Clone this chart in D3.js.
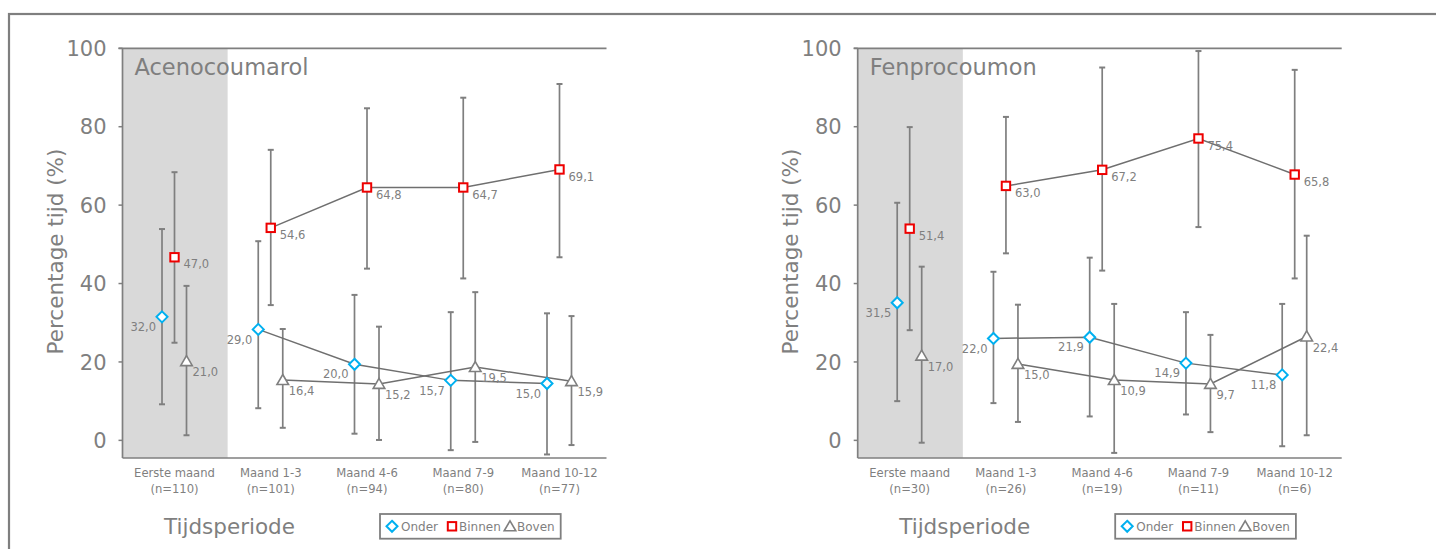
<!DOCTYPE html>
<html>
<head>
<meta charset="utf-8">
<script src="https://cdn.jsdelivr.net/npm/d3@7"></script>
<style>
	body { margin: 0; background: #fff; }
	svg text { font-family: "DejaVu Sans", sans-serif; fill: #7f7f7f; }
</style>
</head>
<body>
<svg id="chart" width="1436" height="549"></svg>
<script>
	var periods = ["Eerste maand", "Maand 1-3", "Maand 4-6", "Maand 7-9", "Maand 10-12"]
	var yTicks = [0, 20, 40, 60, 80, 100]
	var seriesNames = ["Onder", "Binnen", "Boven"]

	// Acenocoumarol
	var acenoN = [110, 101, 94, 80, 77]
	var acenoOnder = [31.5, 28.3, 19.4, 15.3, 14.5]
	var acenoOnderLow = [9.2, 8.2, 1.7, -2.5, -3.6]
	var acenoOnderHigh = [53.9, 50.8, 37.1, 32.7, 32.4]
	var acenoOnderLabels = ["32,0", "29,0", "20,0", "15,7", "15,0"]
	var acenoBinnen = [46.7, 54.2, 64.5, 64.5, 69.1]
	var acenoBinnenLow = [24.9, 34.5, 43.8, 41.3, 46.7]
	var acenoBinnenHigh = [68.4, 74.1, 84.7, 87.4, 90.9]
	var acenoBinnenLabels = ["47,0", "54,6", "64,8", "64,7", "69,1"]
	var acenoBoven = [20.2, 15.4, 14.4, 18.7, 15.1]
	var acenoBovenLow = [1.3, 3.2, 0.1, -0.4, -1.2]
	var acenoBovenHigh = [39.4, 28.4, 29.0, 37.8, 31.7]
	var acenoBovenLabels = ["21,0", "16,4", "15,2", "19,5", "15,9"]

	// Fenprocoumon
	var fenproN = [30, 26, 19, 11, 6]
	var fenproOnder = [35.1, 26.0, 26.3, 19.7, 16.7]
	var fenproOnderLow = [10.0, 9.5, 6.1, 6.6, -1.5]
	var fenproOnderHigh = [60.6, 43.0, 46.6, 32.7, 34.8]
	var fenproOnderLabels = ["31,5", "22,0", "21,9", "14,9", "11,8"]
	var fenproBinnen = [54.0, 64.9, 69.0, 77.0, 67.8]
	var fenproBinnenLow = [28.1, 47.7, 43.3, 54.4, 41.3]
	var fenproBinnenHigh = [79.9, 82.5, 95.1, 99.3, 94.5]
	var fenproBinnenLabels = ["51,4", "63,0", "67,2", "75,4", "65,8"]
	var fenproBoven = [21.6, 19.5, 15.4, 14.4, 26.5]
	var fenproBovenLow = [-0.6, 4.7, -3.2, 2.1, 1.3]
	var fenproBovenHigh = [44.3, 34.6, 34.8, 26.9, 52.2]
	var fenproBovenLabels = ["17,0", "15,0", "10,9", "9,7", "22,4"]

	var svg = d3.select("#chart")
	var grey = "#7f7f7f"

	// outer frame
	svg.append("rect")
		.attr("x", 9).attr("y", 14)
		.attr("width", 1500).attr("height", 600)
		.attr("fill", "none")
		.attr("stroke", grey)
		.attr("stroke-width", 2.2)

	function marker(g, type, x, y) {
		if (type === "Onder") {
			g.append("path")
				.attr("d", "M" + x + "," + (y - 5.5) + "L" + (x + 5.5) + "," + y + "L" + x + "," + (y + 5.5) + "L" + (x - 5.5) + "," + y + "Z")
				.attr("fill", "#fff").attr("stroke", "#00b0f0").attr("stroke-width", 2)
		} else if (type === "Binnen") {
			g.append("rect")
				.attr("x", x - 4.2).attr("y", y - 4.2)
				.attr("width", 8.4).attr("height", 8.4)
				.attr("fill", "#fff").attr("stroke", "#ee0000").attr("stroke-width", 2)
		} else {
			g.append("path")
				.attr("d", "M" + x + "," + (y - 5.5) + "L" + (x + 5.8) + "," + (y + 4.5) + "L" + (x - 5.8) + "," + (y + 4.5) + "Z")
				.attr("fill", "#fff").attr("stroke", grey).attr("stroke-width", 1.6)
		}
	}

	function drawPanel(left, title, nValues, series) {
		var plotW = 484,
			top = 48.3,
			bottom = 458

		var g = svg.append("g").attr("transform", "translate(" + left + ",0)")

		var x = d3.scalePoint().domain(periods).range([52, 437])
		var y = d3.scaleLinear().domain([-4.5, 100]).range([bottom, top])
		var offsets = { Onder: -12.5, Binnen: 0, Boven: 12 }

		// shaded first month
		g.append("rect")
			.attr("x", 0).attr("y", top)
			.attr("width", (x(periods[0]) + x(periods[1])) / 2 + 5)
			.attr("height", bottom - top)
			.attr("fill", "#d9d9d9")

		// axes lines
		g.append("line").attr("x1", -4).attr("x2", plotW).attr("y1", y(100)).attr("y2", y(100))
			.attr("stroke", grey).attr("stroke-width", 1.7)
		g.append("line").attr("x1", 0).attr("x2", plotW).attr("y1", bottom).attr("y2", bottom)
			.attr("stroke", grey).attr("stroke-width", 1.7)
		g.append("line").attr("x1", 0).attr("x2", 0).attr("y1", top).attr("y2", bottom)
			.attr("stroke", grey).attr("stroke-width", 1.7)

		var yAxis = g.append("g")
		yTicks.forEach(function (t) {
			yAxis.append("line").attr("x1", -4).attr("x2", 0).attr("y1", y(t)).attr("y2", y(t))
				.attr("stroke", grey).attr("stroke-width", 1.5)
			yAxis.append("text").text(t)
				.attr("x", -16).attr("y", y(t))
				.attr("dy", "0.36em")
				.attr("text-anchor", "end")
				.style("font-size", "21px")
		})

		g.append("text").text("Percentage tijd (%)")
			.attr("transform", "translate(-67,251.5) rotate(-90)")
			.attr("text-anchor", "middle")
			.attr("dy", "0.36em")
			.style("font-size", "21.5px")

		g.append("text").text(title)
			.attr("x", 12).attr("y", 66.7)
			.attr("dy", "0.36em")
			.style("font-size", "22.5px")

		// category labels
		periods.forEach(function (p, i) {
			var t = g.append("text").attr("text-anchor", "middle").style("font-size", "11.6px")
			t.append("tspan").text(p).attr("x", x(p)).attr("y", 472.7).attr("dy", "0.36em")
			t.append("tspan").text("(n=" + nValues[i] + ")").attr("x", x(p)).attr("y", 489.3).attr("dy", "0.36em")
		})

		g.append("text").text("Tijdsperiode")
			.attr("x", 107).attr("y", 526)
			.attr("dy", "0.36em")
			.attr("text-anchor", "middle")
			.style("font-size", "21.5px")

		// error bars
		series.forEach(function (s) {
			var eb = g.append("g")
			periods.forEach(function (p, i) {
				var cx = x(p) + offsets[s.name]
				eb.append("line").attr("x1", cx).attr("x2", cx)
					.attr("y1", y(s.low[i])).attr("y2", y(s.high[i]))
					.attr("stroke", grey).attr("stroke-width", 1.7)
				;[s.low[i], s.high[i]].forEach(function (v) {
					eb.append("line").attr("x1", cx - 3).attr("x2", cx + 3)
						.attr("y1", y(v)).attr("y2", y(v))
						.attr("stroke", grey).attr("stroke-width", 2)
				})
			})
		})

		// connecting lines, skipping the first month
		series.forEach(function (s) {
			var pts = periods.slice(1).map(function (p, i) {
				return [x(p) + offsets[s.name], y(s.values[i + 1])]
			})
			g.append("path")
				.attr("d", d3.line()(pts))
				.attr("fill", "none")
				.attr("stroke", "#6f6f6f")
				.attr("stroke-width", 1.5)
		})

		// markers and labels
		series.forEach(function (s) {
			var mg = g.append("g")
			periods.forEach(function (p, i) {
				var cx = x(p) + offsets[s.name],
					cy = y(s.values[i])
				marker(mg, s.name, cx, cy)
				var lbl = mg.append("text").text(s.labels[i])
					.attr("dy", "0.36em")
					.style("font-size", "11.5px")
				if (s.name === "Onder") {
					lbl.attr("x", cx - 6).attr("y", cy + 10).attr("text-anchor", "end")
				} else if (s.name === "Binnen") {
					lbl.attr("x", cx + 9).attr("y", cy + 7)
				} else {
					lbl.attr("x", cx + 6).attr("y", cy + 11)
				}
			})
		})

		// legend
		var lg = g.append("g").attr("transform", "translate(257.5,514)")
		lg.append("rect").attr("width", 180.7).attr("height", 24.7)
			.attr("fill", "#fff").attr("stroke", grey).attr("stroke-width", 1.8)
		var itemX = [12, 72, 130]
		seriesNames.forEach(function (name, i) {
			marker(lg, name, itemX[i], 12.3)
			lg.append("text").text(name)
				.attr("x", itemX[i] + (i === 0 ? 9 : 7)).attr("y", 12.3)
				.attr("dy", "0.36em")
				.style("font-size", "12px")
		})
	}

	drawPanel(122.5, "Acenocoumarol", acenoN, [
		{ name: "Onder", values: acenoOnder, low: acenoOnderLow, high: acenoOnderHigh, labels: acenoOnderLabels },
		{ name: "Binnen", values: acenoBinnen, low: acenoBinnenLow, high: acenoBinnenHigh, labels: acenoBinnenLabels },
		{ name: "Boven", values: acenoBoven, low: acenoBovenLow, high: acenoBovenHigh, labels: acenoBovenLabels }
	])

	drawPanel(857.7, "Fenprocoumon", fenproN, [
		{ name: "Onder", values: fenproOnder, low: fenproOnderLow, high: fenproOnderHigh, labels: fenproOnderLabels },
		{ name: "Binnen", values: fenproBinnen, low: fenproBinnenLow, high: fenproBinnenHigh, labels: fenproBinnenLabels },
		{ name: "Boven", values: fenproBoven, low: fenproBovenLow, high: fenproBovenHigh, labels: fenproBovenLabels }
	])
</script>
</body>
</html>
